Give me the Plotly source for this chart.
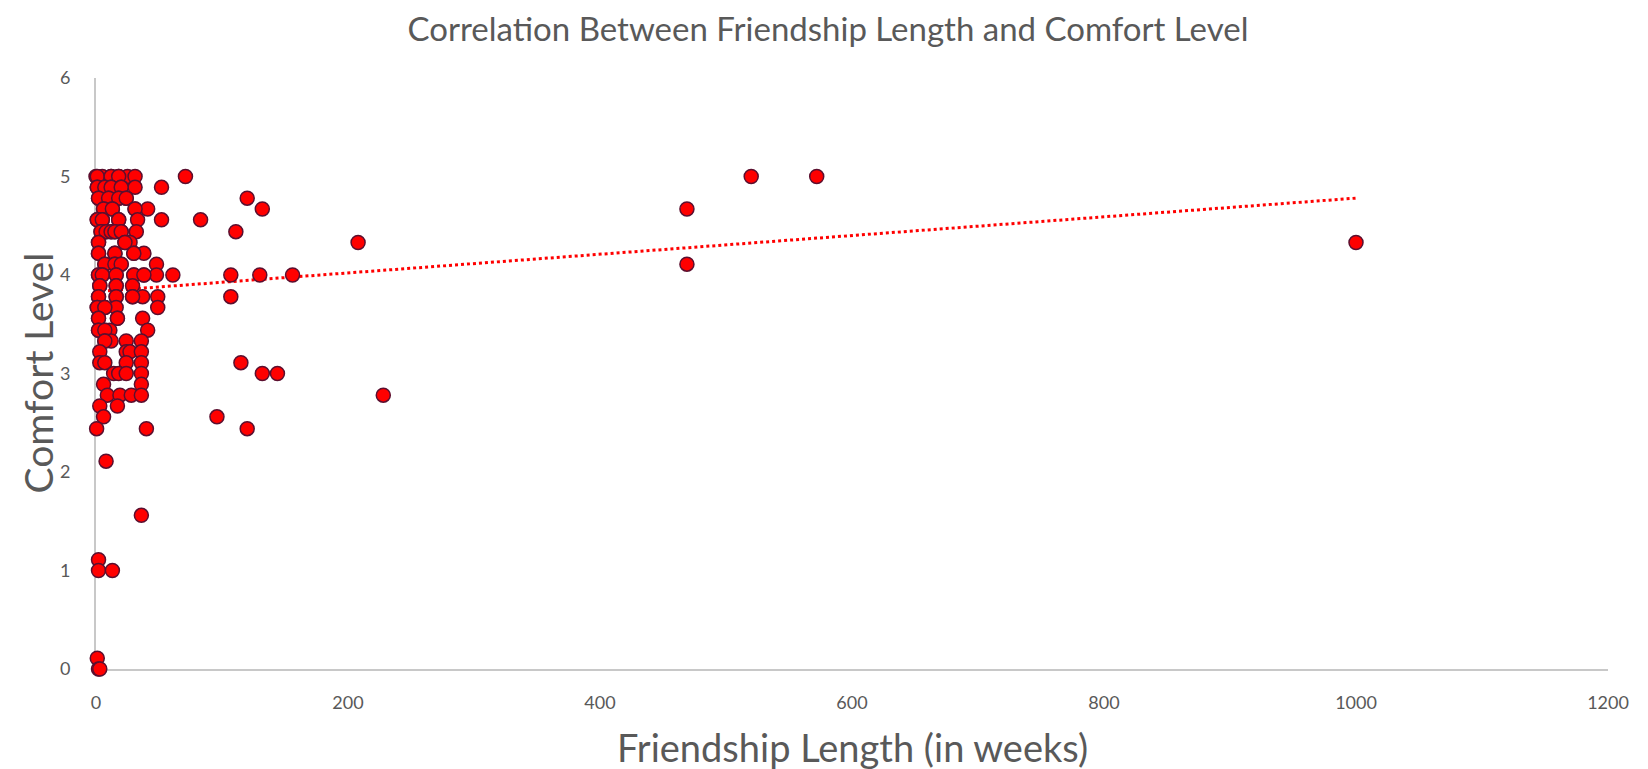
import numpy as np
import plotly.graph_objects as go

# Friendship length (weeks) and comfort level
# (many points in the 0-50 week cluster overlap each other)
weeks = [
    0, 5, 12, 18, 25, 31, 71, 520, 572, 1, 12, 18,          # 5.00
    1, 7, 12, 20, 31, 52, 1, 7, 12, 20,                     # 4.89
    2, 10, 18, 24, 120, 2, 10, 18, 24,                      # 4.78
    6, 13, 31, 41, 132, 469, 6, 13, 31,                     # 4.67
    1, 5, 18, 33, 52, 83, 1, 5, 18,                         # 4.56
    4, 8, 12, 15, 20, 32, 111, 4, 8, 12, 15, 20,            # 4.44
    2, 23, 27, 208, 1000, 2, 23,                            # 4.33
    2, 15, 30, 38, 2, 15, 30,                               # 4.22
    7, 15, 20, 48, 469, 7, 15, 20,                          # 4.11
    2, 5, 16, 30, 38, 48, 61, 107, 130, 156, 2, 5, 16, 30, 38,  # 4.00
    3, 16, 29, 3, 16,                                       # 3.89
    2, 16, 29, 37, 49, 107, 2, 16, 29,                      # 3.78
    1, 7, 16, 49, 1, 7,                                     # 3.67
    2, 17, 37, 2, 17,                                       # 3.56
    2, 7, 11, 41, 2, 7,                                     # 3.44
    7, 12, 24, 36, 7,                                       # 3.33
    3, 24, 27, 36,                                          # 3.22
    3, 7, 24, 36, 115,                                      # 3.11
    14, 18, 24, 36, 132, 144,                               # 3.00
    6, 36,                                                  # 2.89
    9, 19, 28, 36, 228,                                     # 2.78
    3, 17,                                                  # 2.67
    6, 96,                                                  # 2.56
    0.5, 40, 120,                                           # 2.44
    8,                                                      # 2.11
    36,                                                     # 1.56
    2,                                                      # 1.11
    2, 13,                                                  # 1.00
    1,                                                      # 0.11
    2, 3,                                                   # 0.00
]
comfort = (
    [5.00] * 12 + [4.89] * 10 + [4.78] * 9 + [4.67] * 9 + [4.56] * 9 + [4.44] * 12
    + [4.33] * 7 + [4.22] * 7 + [4.11] * 8 + [4.00] * 15 + [3.89] * 5 + [3.78] * 9
    + [3.67] * 6 + [3.56] * 5 + [3.44] * 6 + [3.33] * 5 + [3.22] * 4 + [3.11] * 5
    + [3.00] * 6 + [2.89] * 2 + [2.78] * 5 + [2.67] * 2 + [2.56] * 2 + [2.44] * 3
    + [2.11] * 1 + [1.56] * 1 + [1.11] * 1 + [1.00] * 2 + [0.11] * 1 + [0.00] * 2
)
assert len(weeks) == len(comfort)

x_ticks = [0, 200, 400, 600, 800, 1000, 1200]
y_ticks = [0, 1, 2, 3, 4, 5, 6]

# Linear trendline (least squares) over the data
xs = np.array(weeks, dtype=float)
ys = np.array(comfort, dtype=float)
slope, intercept = np.polyfit(xs, ys, 1)
trend_x = np.array([xs.min(), xs.max()])
trend_y = slope * trend_x + intercept

FONT = "Lato, 'Open Sans', sans-serif"
GREY = "#595959"

# the page body adds an 8px offset, so the figure is 8px smaller than the window
W, H = 1640, 761

fig = go.Figure()
fig.add_trace(go.Scatter(
    x=trend_x, y=trend_y, mode="lines",
    line=dict(color="#ff0000", width=3, dash="dot"),
    hoverinfo="skip", showlegend=False,
))
fig.add_trace(go.Scatter(
    x=weeks, y=comfort, mode="markers",
    marker=dict(size=14, color="#ff0000", line=dict(color="#5b0f2f", width=1.5)),
    cliponaxis=False, showlegend=False,
))

fig.update_layout(
    width=W, height=H,
    margin=dict(l=88, r=40, t=70, b=100),
    paper_bgcolor="white", plot_bgcolor="white",
    font=dict(family=FONT, color=GREY),
    title=dict(text="Correlation Between Friendship Length and Comfort Level",
               x=0.5, xanchor="center", y=1 - 21 / H, yanchor="middle",
               font=dict(size=33, color=GREY, family=FONT)),
    annotations=[
        dict(text="Friendship Length (in weeks)", xref="paper", yref="paper",
             x=0.5, y=-(739 - 661) / 591, xanchor="center", yanchor="middle",
             showarrow=False, font=dict(size=38, color=GREY, family=FONT)),
        dict(text="Comfort Level", xref="paper", yref="paper",
             x=-(88 - 29) / 1512, y=0.5, xanchor="center", yanchor="middle",
             textangle=-90, showarrow=False,
             font=dict(size=39, color=GREY, family=FONT)),
    ],
)
fig.update_xaxes(
    range=[0, 1200], tickvals=x_ticks, showgrid=False, zeroline=False,
    showline=True, linecolor="#c8c8c8", linewidth=2, layer="below traces",
    ticks="", ticklabelstandoff=16, tickfont=dict(size=18, color=GREY),
)
fig.update_yaxes(
    range=[0, 6], tickvals=y_ticks, showgrid=False, zeroline=False,
    showline=True, linecolor="#c8c8c8", linewidth=2, layer="below traces",
    ticks="", ticklabelstandoff=20, tickfont=dict(size=18, color=GREY),
)

fig.write_html("out.html")
